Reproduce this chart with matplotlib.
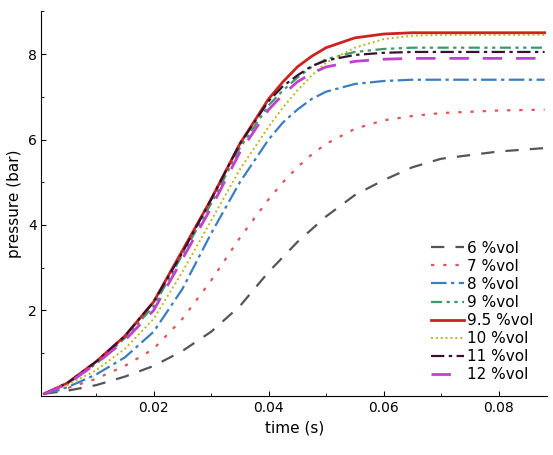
import matplotlib
matplotlib.use("Agg")
import matplotlib.pyplot as plt
from matplotlib.ticker import AutoMinorLocator

t = [0.001, 0.005, 0.01, 0.015, 0.02, 0.025, 0.03, 0.035, 0.04, 0.0425, 0.045, 0.0475,
     0.05, 0.055, 0.06, 0.065, 0.07, 0.08, 0.088]

p6 = [0.05, 0.12, 0.25, 0.45, 0.7, 1.05, 1.5, 2.1, 2.9, 3.25, 3.6, 3.9, 4.2, 4.7, 5.05, 5.35, 5.55, 5.72, 5.8]
p7 = [0.05, 0.18, 0.4, 0.7, 1.1, 1.8, 2.7, 3.7, 4.6, 5.0, 5.35, 5.65, 5.9, 6.25, 6.45, 6.55, 6.62, 6.68, 6.7]
p8 = [0.05, 0.2, 0.5, 0.9, 1.5, 2.5, 3.8, 5.0, 6.0, 6.4, 6.7, 6.95, 7.12, 7.3, 7.37, 7.4, 7.4, 7.4, 7.4]
p9 = [0.05, 0.28, 0.75, 1.35, 2.1, 3.3, 4.5, 5.8, 6.8, 7.15, 7.45, 7.7, 7.88, 8.05, 8.12, 8.15, 8.15, 8.15, 8.15]
p95 = [0.05, 0.3, 0.8, 1.4, 2.2, 3.4, 4.6, 5.9, 6.95, 7.35, 7.7, 7.95, 8.15, 8.38, 8.47, 8.5, 8.5, 8.5, 8.5]
p10 = [0.05, 0.25, 0.6, 1.1, 1.8, 2.9, 4.1, 5.3, 6.3, 6.75, 7.15, 7.5, 7.8, 8.15, 8.35, 8.43, 8.45, 8.45, 8.45]
p11 = [0.05, 0.3, 0.8, 1.4, 2.2, 3.35, 4.6, 5.9, 6.9, 7.25, 7.5, 7.72, 7.85, 7.98, 8.03, 8.05, 8.05, 8.05, 8.05]
p12 = [0.05, 0.28, 0.75, 1.3, 2.0, 3.2, 4.4, 5.7, 6.7, 7.05, 7.35, 7.55, 7.7, 7.83, 7.88, 7.9, 7.9, 7.9, 7.9]

labels = ["6 %vol", "7 %vol", "8 %vol", "9 %vol", "9.5 %vol", "10 %vol", "11 %vol", "12 %vol"]
series = [p6, p7, p8, p9, p95, p10, p11, p12]
colors = ["#555555", "#e05555", "#3a7ec0", "#3a9a6a", "#cc2222", "#b8b820", "#3a1030", "#c040d0"]
styles = [(0, (6, 5)), (0, (1.5, 4)), (0, (7, 2, 1.5, 2)), (0, (5, 2, 1.5, 2, 1.5, 2)),
          "-", (0, (1, 1.5)), (0, (6, 2, 1.5, 2)), (0, (7, 5))]
widths = [1.6, 1.6, 1.6, 1.6, 2.0, 1.4, 1.6, 2.0]

fig, ax = plt.subplots(figsize=(5.53, 4.55), dpi=100)
fig.subplots_adjust(left=0.075, right=0.99, bottom=0.13, top=0.975)

for y, lab, c, ls, lw in zip(series, labels, colors, styles, widths):
    ax.plot(t, y, color=c, linestyle=ls, linewidth=lw, label=lab)

ax.set_xlim(0.0005, 0.0885)
ax.set_ylim(0, 9)
ax.set_xticks([0.02, 0.04, 0.06, 0.08])
ax.set_yticks([2, 4, 6, 8])
ax.xaxis.set_minor_locator(AutoMinorLocator(2))
ax.yaxis.set_minor_locator(AutoMinorLocator(2))
ax.tick_params(direction="in", labelsize=10)
ax.tick_params(which="minor", direction="in", length=2)
ax.spines["top"].set_visible(False)
ax.spines["right"].set_visible(False)
ax.set_xlabel("time (s)", fontsize=11)
ax.set_ylabel("pressure (bar)", fontsize=11)
ax.legend(loc="lower right", frameon=False, fontsize=11, handlelength=2.2,
          handletextpad=0.2, labelspacing=0.2, bbox_to_anchor=(1.0, 0.0))

fig.savefig("out.png")
